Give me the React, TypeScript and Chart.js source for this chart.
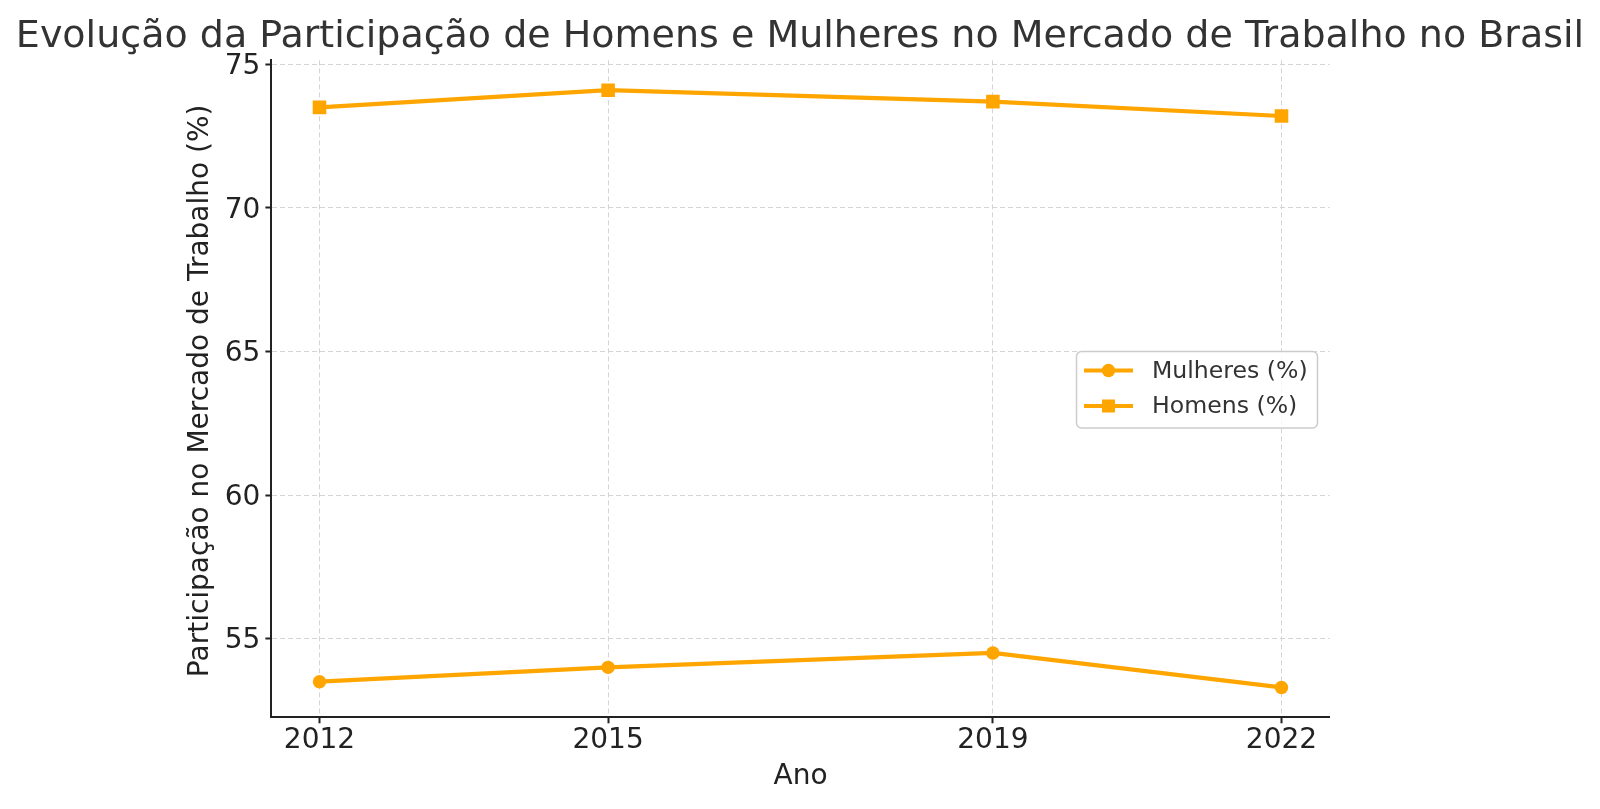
import React, { useEffect, useRef } from "react";
import { Chart, registerables } from "chart.js";

Chart.register(...registerables);

const years = [2012, 2015, 2019, 2022];
const mulheres = [53.5, 54.0, 54.5, 53.3];
const homens = [73.5, 74.1, 73.7, 73.2];
const yTicks = [55, 60, 65, 70, 75];
const seriesLabels = ["Mulheres (%)", "Homens (%)"];
const titleText = "Evolução da Participação de Homens e Mulheres no Mercado de Trabalho no Brasil";
const xLabel = "Ano";
const yLabel = "Participação no Mercado de Trabalho (%)";

const ORANGE = "#FFA500";
const FONT = "'DejaVu Sans', sans-serif";

const overlayPlugin = {
  id: "overlay",
  afterDraw(chart: any) {
    const ctx = chart.ctx as CanvasRenderingContext2D;
    const ca = chart.chartArea;
    ctx.save();
    // title
    ctx.fillStyle = "#333333";
    ctx.font = `38px ${FONT}`;
    ctx.textAlign = "center";
    ctx.textBaseline = "alphabetic";
    ctx.fillText(titleText, 800, 46.5);
    // x label
    ctx.fillStyle = "#222222";
    ctx.font = `28px ${FONT}`;
    ctx.textBaseline = "middle";
    ctx.fillText(xLabel, (ca.left + ca.right) / 2, 777);
    // y label
    ctx.save();
    ctx.translate(201, (ca.top + ca.bottom) / 2 + 2);
    ctx.rotate(-Math.PI / 2);
    ctx.fillText(yLabel, 0, 0);
    ctx.restore();

    // legend
    const bx = 1076.5, by = 351.5, bw = 241, bh = 76.5;
    ctx.beginPath();
    ctx.roundRect(bx, by, bw, bh, 5);
    ctx.fillStyle = "rgba(255,255,255,0.8)";
    ctx.fill();
    ctx.strokeStyle = "#cccccc";
    ctx.lineWidth = 1.5;
    ctx.stroke();
    const rows = [370.5, 406];
    rows.forEach((ry, i) => {
      ctx.strokeStyle = ORANGE;
      ctx.lineWidth = 4.2;
      ctx.beginPath();
      ctx.moveTo(1084, ry);
      ctx.lineTo(1133, ry);
      ctx.stroke();
      ctx.fillStyle = ORANGE;
      if (i === 0) {
        ctx.beginPath();
        ctx.arc(1108.5, ry, 6.7, 0, Math.PI * 2);
        ctx.fill();
      } else {
        ctx.fillRect(1108.5 - 6.5, ry - 6.5, 13, 13);
      }
      ctx.fillStyle = "#333333";
      ctx.font = `23.6px ${FONT}`;
      ctx.textAlign = "left";
      ctx.textBaseline = "middle";
      ctx.fillText(seriesLabels[i], 1152, ry + 1);
    });
    ctx.restore();
  },
};

export default function App() {
  const canvasRef = useRef<HTMLCanvasElement | null>(null);

  useEffect(() => {
    document.body.style.margin = "0";
    const canvas = canvasRef.current!;
    const chart = new Chart(canvas, {
      type: "line",
      data: {
        datasets: [
          {
            label: seriesLabels[0],
            data: years.map((x, i) => ({ x, y: mulheres[i] })),
            borderColor: ORANGE,
            backgroundColor: ORANGE,
            borderWidth: 4.2,
            pointStyle: "circle",
            pointRadius: 6.7,
            pointBorderWidth: 0,
            tension: 0,
          },
          {
            label: seriesLabels[1],
            data: years.map((x, i) => ({ x, y: homens[i] })),
            borderColor: ORANGE,
            backgroundColor: ORANGE,
            borderWidth: 4.2,
            pointStyle: "rect",
            pointRadius: 9.6,
            pointBorderWidth: 0,
            tension: 0,
          },
        ],
      },
      options: {
        animation: false,
        responsive: false,
        devicePixelRatio: 1,
        layout: { padding: { left: 0, right: 270.4, top: 60.3, bottom: 0 } },
        plugins: {
          legend: { display: false },
          title: { display: false },
          tooltip: { enabled: false },
        },
        scales: {
          x: {
            type: "linear",
            min: 2011.5,
            max: 2022.5,
            afterBuildTicks: (scale: any) => {
              scale.ticks = years.map((v) => ({ value: v }));
            },
            afterFit: (scale: any) => {
              scale.height = 809 - 717.3;
            },
            ticks: {
              font: { family: FONT, size: 28 },
              color: "#222222",
              padding: 1,
              maxRotation: 0,
              autoSkip: false,
              callback: (v: any) => String(v),
            },
            grid: {
              color: "#d4d4d4",
              lineWidth: 1,
              drawTicks: true,
              tickLength: 6,
              tickColor: "#222222",
              tickWidth: 2,
            },
            border: { display: true, color: "#222222", width: 2, dash: [5, 3] },
          },
          y: {
            type: "linear",
            min: 52.26,
            max: 75.14,
            afterBuildTicks: (scale: any) => {
              scale.ticks = yTicks.map((v) => ({ value: v }));
            },
            afterFit: (scale: any) => {
              scale.width = 271.4;
            },
            ticks: {
              font: { family: FONT, size: 28 },
              color: "#222222",
              padding: 5,
              labelOffset: 2.5,
              autoSkip: false,
              callback: (v: any) => String(v),
            },
            grid: {
              color: "#d4d4d4",
              lineWidth: 1,
              drawTicks: true,
              tickLength: 6,
              tickColor: "#222222",
              tickWidth: 2,
            },
            border: { display: true, color: "#222222", width: 2, dash: [5, 3] },
          },
        },
      },
      plugins: [overlayPlugin],
    });
    return () => chart.destroy();
  }, []);

  return (
    <div style={{ width: 1600, height: 809, background: "#ffffff" }}>
      <canvas ref={canvasRef} width={1600} height={809} style={{ display: "block", width: 1600, height: 809 }} />
    </div>
  );
}
